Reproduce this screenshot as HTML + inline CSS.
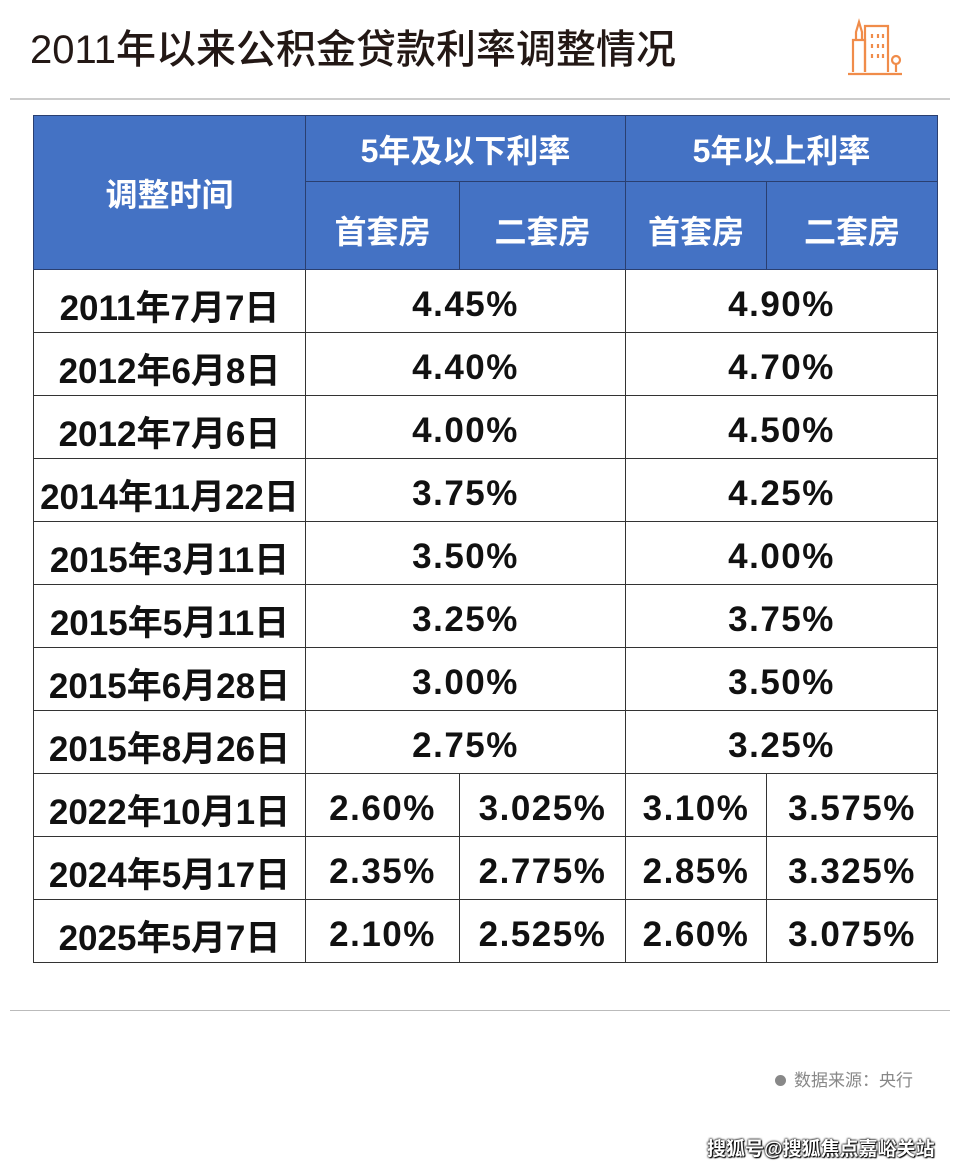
<!DOCTYPE html>
<html><head><meta charset="utf-8"><style>
body{margin:0;width:960px;height:1169px;background:#fff;position:relative;overflow:hidden;font-family:"Liberation Sans","Noto Sans CJK SC",sans-serif;}
.title{position:absolute;left:30px;top:22px;font-size:40px;color:#231815;font-weight:500;line-height:56px;}
.hr{position:absolute;left:10px;width:940px;height:2px;background:#ccc;}
table{position:absolute;left:33px;top:115px;border-collapse:collapse;table-layout:fixed;}
td{border:1px solid #333;text-align:center;font-weight:bold;font-size:35px;color:#111;height:54px;padding:8px 0 0 0;white-space:nowrap;}
td.n{letter-spacing:1.5px;}
th{background:#4472c4;color:#fff;font-size:32px;font-weight:bold;border:1px solid #2a3f70;padding:0;}
.src{position:absolute;left:775px;top:1066px;font-size:17px;color:#888;}
.src b{display:inline-block;width:11px;height:11px;border-radius:50%;background:#888;margin-right:8px;}
.wm{position:absolute;left:707px;top:1134px;font-size:19px;color:#fff;font-weight:bold;text-shadow:0 0 2px #000,0 0 2px #000,1px 1px 1px #000;}
</style></head><body>
<div class="title">2011年以来公积金贷款利率调整情况</div>
<svg style="position:absolute;left:845px;top:14px" width="60" height="62" viewBox="0 0 60 62" fill="none" stroke="#f08c4a" stroke-width="2.2">
<path d="M3 60H57"/><path d="M8 58V26H20V58"/><path d="M11 26V18L14 8L17 18V26"/><path d="M20 58V12H43V58"/><path d="M27 20v4M33 20v4M38 20v4M27 30v4M33 30v4M38 30v4M27 40v4M33 40v4M38 40v4"/><circle cx="51" cy="46" r="4"/><path d="M51 50V58"/>
</svg>
<div class="hr" style="top:98px"></div>
<table>
<colgroup><col style="width:272px"><col style="width:154px"><col style="width:166px"><col style="width:141px"><col style="width:171px"></colgroup>
<tr><th rowspan="2" style="height:153px">调整时间</th><th colspan="2" style="height:65px">5年及以下利率</th><th colspan="2">5年以上利率</th></tr>
<tr><th style="height:79px;padding-top:8px">首套房</th><th style="padding-top:8px">二套房</th><th style="padding-top:8px">首套房</th><th style="padding-top:8px">二套房</th></tr>
<tr><td>2011年7月7日</td><td class="n" colspan="2">4.45%</td><td class="n" colspan="2">4.90%</td></tr>
<tr><td>2012年6月8日</td><td class="n" colspan="2">4.40%</td><td class="n" colspan="2">4.70%</td></tr>
<tr><td>2012年7月6日</td><td class="n" colspan="2">4.00%</td><td class="n" colspan="2">4.50%</td></tr>
<tr><td>2014年11月22日</td><td class="n" colspan="2">3.75%</td><td class="n" colspan="2">4.25%</td></tr>
<tr><td>2015年3月11日</td><td class="n" colspan="2">3.50%</td><td class="n" colspan="2">4.00%</td></tr>
<tr><td>2015年5月11日</td><td class="n" colspan="2">3.25%</td><td class="n" colspan="2">3.75%</td></tr>
<tr><td>2015年6月28日</td><td class="n" colspan="2">3.00%</td><td class="n" colspan="2">3.50%</td></tr>
<tr><td>2015年8月26日</td><td class="n" colspan="2">2.75%</td><td class="n" colspan="2">3.25%</td></tr>
<tr><td>2022年10月1日</td><td class="n">2.60%</td><td class="n">3.025%</td><td class="n">3.10%</td><td class="n">3.575%</td></tr>
<tr><td>2024年5月17日</td><td class="n">2.35%</td><td class="n">2.775%</td><td class="n">2.85%</td><td class="n">3.325%</td></tr>
<tr><td>2025年5月7日</td><td class="n">2.10%</td><td class="n">2.525%</td><td class="n">2.60%</td><td class="n">3.075%</td></tr>
</table>
<div class="hr" style="top:1010px;height:1px;background:#bbb"></div>
<div class="src"><b></b>数据来源：央行</div>
<div class="wm">搜狐号@搜狐焦点嘉峪关站</div>
</body></html>
